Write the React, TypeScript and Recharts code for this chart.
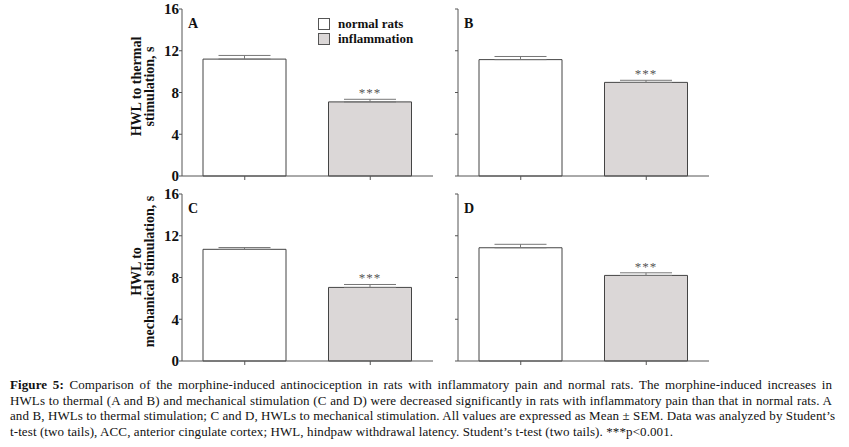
import { BarChart, Bar, Cell, XAxis, YAxis, ErrorBar, LabelList } from "recharts";

// groups and panel data (Mean, SEM)
const groups = ["normal rats", "inflammation"];
const groupFills = ["#ffffff", "#dbd7d7"];
const yTicks = [0, 4, 8, 12, 16];
const sig = ["", "***"];

const thermalA = [11.2, 7.1];
const thermalASem = [0.35, 0.25];
const thermalB = [11.15, 8.97];
const thermalBSem = [0.3, 0.2];
const mechC = [10.7, 7.05];
const mechCSem = [0.17, 0.28];
const mechD = [10.85, 8.2];
const mechDSem = [0.33, 0.25];

const thermalLabel = ["HWL to thermal", "stimulation, s"];
const mechLabel = ["HWL to", "mechanical stimulation, s"];

const captionLines = [
  "Comparison of the morphine-induced antinociception in rats with inflammatory pain and normal rats. The morphine-induced increases in",
  "HWLs to thermal (A and B) and mechanical stimulation (C and D) were decreased significantly in rats with inflammatory pain than that in normal rats. A",
  "and B, HWLs to thermal stimulation; C and D, HWLs to mechanical stimulation. All values are expressed as Mean ± SEM. Data was analyzed by Student\u2019s",
  "t-test (two tails), ACC, anterior cingulate cortex; HWL, hindpaw withdrawal latency. Student\u2019s t-test (two tails). ***p<0.001.",
];

const FONT = "'Liberation Serif', 'Times New Roman', serif";

type Row = { group: string; mean: number; err: number[]; sig: string };

function buildRows(means: number[], sems: number[]): Row[] {
  return groups.map((g, i) => ({
    group: g,
    mean: means[i],
    err: [0, sems[i]],
    sig: sig[i],
  }));
}

const makeStars = (rows: Row[]) => (props: any) => {
  const vb = props.viewBox && props.viewBox.height ? props.viewBox : props;
  const { x, y, width, height } = vb;
  const row = rows[props.index];
  if (!row || !row.sig) return null;
  const pxPerUnit = height / row.mean;
  const capY = y - row.err[1] * pxPerUnit;
  return (
    <text
      x={x + width / 2}
      y={capY - 2}
      textAnchor="middle"
      fontFamily={FONT}
      fontSize={13}
      letterSpacing={1}
      fill="#555"
    >
      {row.sig}
    </text>
  );
};

const makeYLabel = (lines: string[]) => (props: any) => {
  const vb = props.viewBox;
  const cx = 41;
  const cy = vb.y + vb.height / 2 - 6;
  return (
    <text
      x={cx}
      y={cy}
      transform={`rotate(-90 ${cx} ${cy})`}
      textAnchor="middle"
      fontFamily={FONT}
      fontWeight="bold"
      fontSize={14}
      fill="#111"
    >
      {lines.map((l, i) => (
        <tspan key={l} x={cx} dy={i === 0 ? 0 : 13}>
          {l}
        </tspan>
      ))}
    </text>
  );
};

interface PanelProps {
  letter: string;
  means: number[];
  sems: number[];
  yLabel?: string[];
  showLegend?: boolean;
  left: number;
  top: number;
}

function Panel({ letter, means, sems, yLabel, showLegend, left, top }: PanelProps) {
  const rows = buildRows(means, sems);
  const axisW = yLabel ? 82 : 18;
  const width = axisW + 251 + 7;
  return (
    <div style={{ position: "absolute", left, top, width, height: 185 }}>
      <BarChart
        width={width}
        height={185}
        data={rows}
        margin={{ top: 9, right: 7, left: 0, bottom: 0 }}
        barSize={83}
      >
        <XAxis
          dataKey="group"
          height={9}
          stroke="#555"
          tickSize={4}
          tickFormatter={() => ""}
        />
        <XAxis
          xAxisId="top"
          orientation="top"
          dataKey="group"
          height={0}
          stroke="#999"
          tick={false}
          tickLine={false}
        />
        <YAxis
          width={axisW}
          domain={[0, 16]}
          ticks={yTicks}
          interval={0}
          stroke="#555"
          tickSize={3}
          tickMargin={0}
          tickFormatter={yLabel ? (v: number) => `${v}` : () => ""}
          tick={{ fill: "#111", fontSize: 15, fontWeight: "bold", fontFamily: FONT }}
          label={yLabel ? { content: makeYLabel(yLabel) } : undefined}
        />
        <YAxis
          yAxisId="right"
          orientation="right"
          width={0}
          domain={[0, 16]}
          stroke="#999"
          tick={false}
          tickLine={false}
        />
        <Bar dataKey="mean" stroke="#444" strokeWidth={1} isAnimationActive={false}>
          {rows.map((r, i) => (
            <Cell key={r.group} fill={groupFills[i]} />
          ))}
          <ErrorBar dataKey="err" width={26} stroke="#777" strokeWidth={1} isAnimationActive={false} />
          <LabelList dataKey="sig" content={makeStars(rows)} />
        </Bar>
      </BarChart>
      <div
        style={{
          position: "absolute",
          left: axisW + 6,
          top: 17,
          fontFamily: FONT,
          fontWeight: "bold",
          fontSize: 14,
          lineHeight: "14px",
          color: "#111",
        }}
      >
        {letter}
      </div>
      {showLegend && (
        <div
          style={{
            position: "absolute",
            left: 218,
            top: 16,
            fontFamily: FONT,
            fontWeight: "bold",
            fontSize: 13,
            lineHeight: "15px",
            color: "#111",
          }}
        >
          {groups.map((g, i) => (
            <div key={g} style={{ display: "flex", alignItems: "center" }}>
              <span
                style={{
                  display: "inline-block",
                  width: 10,
                  height: 10,
                  border: "1px solid #555",
                  background: groupFills[i],
                  marginRight: 8,
                }}
              />
              {g}
            </div>
          ))}
        </div>
      )}
    </div>
  );
}

export default function App() {
  return (
    <div style={{ position: "relative", width: 849, height: 447, background: "#fff", fontFamily: FONT }}>
      <style>{"body{margin:0}"}</style>
      <Panel letter="A" means={thermalA} sems={thermalASem} yLabel={thermalLabel} showLegend left={100} top={0} />
      <Panel letter="B" means={thermalB} sems={thermalBSem} left={440} top={0} />
      <Panel letter="C" means={mechC} sems={mechCSem} yLabel={mechLabel} left={100} top={185} />
      <Panel letter="D" means={mechD} sems={mechDSem} left={440} top={185} />
      <div
        style={{
          position: "absolute",
          left: 10,
          top: 377,
          width: 822,
          fontSize: 13,
          letterSpacing: "0.1px",
          lineHeight: "15.5px",
          color: "#111",
        }}
      >
        {captionLines.map((l, i) => (
          <div
            key={i}
            style={{
              whiteSpace: "nowrap",
              textAlign: i < captionLines.length - 1 ? "justify" : "left",
              textAlignLast: i < captionLines.length - 1 ? "justify" : "auto",
            }}
          >
            {i === 0 && <b>Figure 5:</b>} {l}
          </div>
        ))}
      </div>
    </div>
  );
}
